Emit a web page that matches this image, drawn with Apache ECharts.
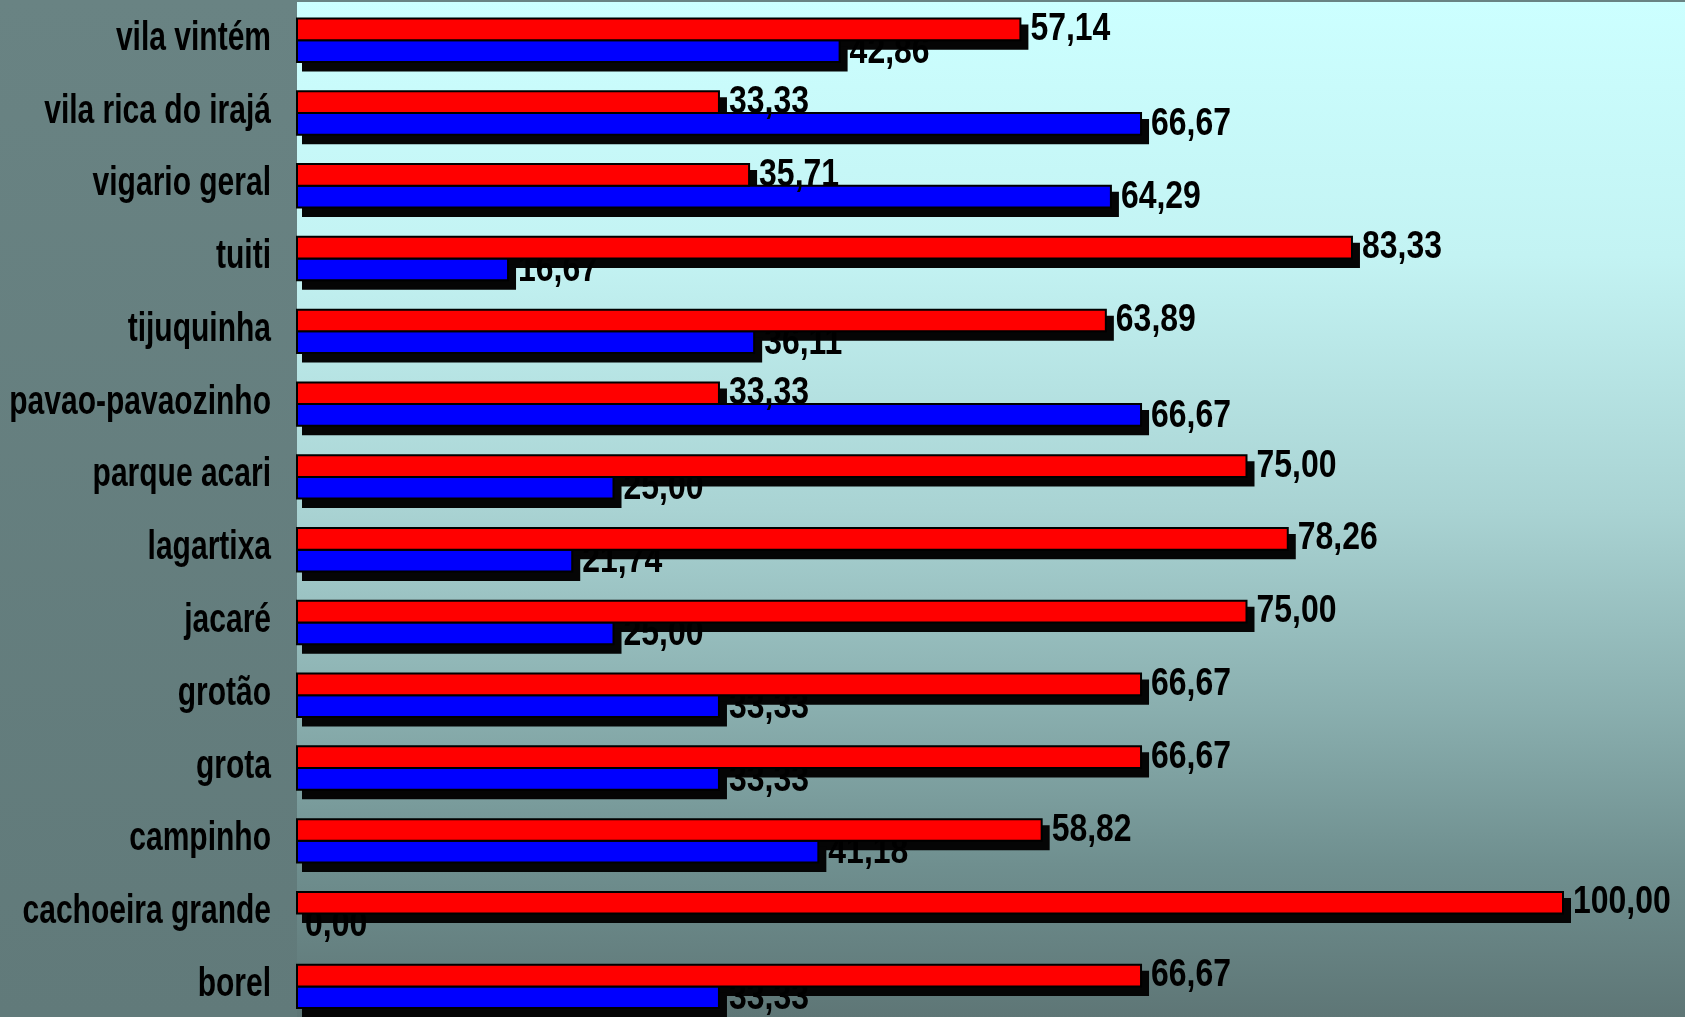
<!DOCTYPE html>
<html>
<head>
<meta charset="utf-8">
<title>Comunidades</title>
<script src="https://cdn.jsdelivr.net/npm/echarts@6/dist/echarts.min.js"></script>
<style>
  html, body { margin: 0; padding: 0; }
  body { width: 1685px; height: 1017px; overflow: hidden;
         background: linear-gradient(to bottom, #698383, #617a7a); }
  #chart { width: 1685px; height: 1017px; }
</style>
</head>
<body>
<div id="chart"></div>
<script>
// Communities, listed top to bottom
const categories = [
  'vila vintém', 'vila rica do irajá', 'vigario geral', 'tuiti', 'tijuquinha',
  'pavao-pavaozinho', 'parque acari', 'lagartixa', 'jacaré', 'grotão',
  'grota', 'campinho', 'cachoeira grande', 'borel'
];
// Red series (upper bar of each pair), percent
const redValues = [57.14, 33.33, 35.71, 83.33, 63.89, 33.33, 75.00, 78.26, 75.00, 66.67, 66.67, 58.82, 100.00, 66.67];
// Blue series (lower bar of each pair), percent
const blueValues = [42.86, 66.67, 64.29, 16.67, 36.11, 66.67, 25.00, 21.74, 25.00, 33.33, 33.33, 41.18, 0.00, 33.33];

// Narrow bold lettering: a regular sans face squeezed horizontally
const FONT_FAMILY = '"Liberation Sans", Arial, sans-serif';
const VALUE_FONT = 'bold 38.5px ' + FONT_FAMILY;
const VALUE_SCALE_X = 0.83;
const CAT_FONT = 'bold 40px ' + FONT_FAMILY;
const CAT_SCALE_X = 0.75;
const CAT_MARGIN = 26;

function fmt(v) { return v.toFixed(2).replace('.', ','); }

function narrowText(x, y, text, font, sx, align, z2) {
  return {
    type: 'text', z2: z2, x: x, y: y, scaleX: sx, scaleY: 1,
    style: { x: 0, y: 0, text: text, font: font, fill: '#000',
             align: align, verticalAlign: 'middle' }
  };
}

// Each category draws: its name, drop shadows, blue bar, blue label, red bar, red label
function renderItem(params, api) {
  const idx = api.value(0);
  const r = api.value(1);
  const b = api.value(2);
  const c = api.coord([0, idx]);
  const x0 = c[0], yc = c[1];
  const band = api.size([0, 1])[1];
  const h = band * 0.298;
  const xr = api.coord([r, idx])[0];
  const xb = api.coord([b, idx])[0];
  const redTop = yc - h;
  const blueTop = yc;
  const kids = [];

  function shadow(top, xe) {
    return { type: 'rect', z2: 0,
      shape: { x: x0 + 5, y: top + 6, width: xe - x0 + 3, height: h + 3.5 },
      style: { fill: '#050505' } };
  }
  function bar(top, xe, color, z2) {
    return { type: 'rect', z2: z2,
      shape: { x: x0, y: top, width: xe - x0, height: h },
      style: { fill: color, stroke: '#000', lineWidth: 2 } };
  }

  kids.push(narrowText(x0 - CAT_MARGIN, yc - 1.5, categories[idx], CAT_FONT, CAT_SCALE_X, 'right', 5));
  if (r > 0) kids.push(shadow(redTop, xr));
  if (b > 0) kids.push(shadow(blueTop, xb));
  if (b > 0) kids.push(bar(blueTop, xb, '#0000ff', 1));
  kids.push(narrowText(xb + (b > 0 ? 10 : 8), blueTop + h / 2 + 1, fmt(b), VALUE_FONT, VALUE_SCALE_X, 'left', 2));
  if (r > 0) kids.push(bar(redTop, xr, '#ff0000', 3));
  kids.push(narrowText(xr + 10, redTop + h / 2, fmt(r), VALUE_FONT, VALUE_SCALE_X, 'left', 4));

  return { type: 'group', children: kids };
}

const chart = echarts.init(document.getElementById('chart'), null, { renderer: 'canvas' });

chart.setOption({
  backgroundColor: 'transparent',
  animation: false,
  graphic: [{
    type: 'rect', z: -10, silent: true,
    shape: { x: 297, y: 2, width: 1388, height: 1015 },
    style: {
      fill: new echarts.graphic.LinearGradient(0, 0, 0, 1, [
        { offset: 0, color: '#ccffff' },
        { offset: 0.25, color: '#c3f3f3' },
        { offset: 0.5, color: '#a9d3d3' },
        { offset: 0.7, color: '#89aeae' },
        { offset: 0.85, color: '#6f8f8f' },
        { offset: 1, color: '#5e7676' }
      ])
    }
  }],
  grid: { left: 297, right: 122, top: 3.8, height: 1019, containLabel: false, outerBoundsMode: 'none' },
  xAxis: {
    type: 'value', min: 0, max: 100,
    show: false
  },
  yAxis: {
    type: 'category',
    data: categories,
    inverse: true,
    axisLine: { show: false },
    axisTick: { show: false },
    splitLine: { show: false },
    axisLabel: { show: false }
  },
  series: [{
    type: 'custom',
    clip: false,
    renderItem: renderItem,
    encode: { x: [1, 2], y: 0 },
    data: categories.map((c, i) => [i, redValues[i], blueValues[i]])
  }]
});
</script>
</body>
</html>
